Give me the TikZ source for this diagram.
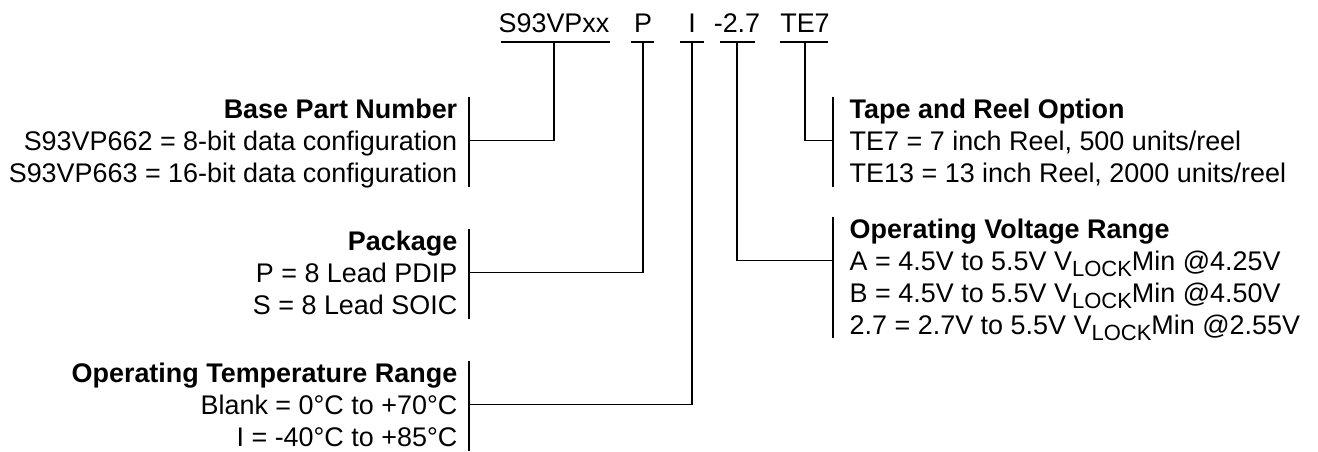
\documentclass[tikz,border=0pt]{standalone}
\usepackage{fontspec}
\setmainfont{Liberation Sans}
\usepackage{tikz}

\newcommand{\vlock}{V\raisebox{-4.5pt}{\fontsize{16.5}{16.5}\selectfont LOCK}}

\begin{document}
\begin{tikzpicture}[x=0.75pt,y=-0.75pt,line width=1.1pt,
  every node/.style={inner sep=0pt,font=\fontsize{20.2}{24}\selectfont},
  lft/.style={anchor=base east},
  rgt/.style={anchor=base west}]
\useasboundingbox (0,0) rectangle (1318,451);

	% part number fields
	\node[anchor=base] (pn) at (554, 32) {S93VPxx};
	\node[anchor=base] (pk) at (643, 32) {P};
	\node[anchor=base] (tr) at (692, 32) {I};
	\node[anchor=base] (vr) at (737, 32) {-2.7};
	\node[anchor=base] (tp) at (805, 32) {TE7};

	\draw (pn.base) ++(-53, 10) -- ++(109, 0);
	\draw (pk.base) ++(-12, 10) -- ++(23, 0);
	\draw (tr.base) ++(-12, 10) -- ++(24, 0);
	\draw (vr.base) ++(-17, 10) -- ++(35, 0);
	\draw (tp.base) ++(-25, 10) -- ++(48, 0);

	% left side
	\node[lft] (b1) at (458, 118) {\bfseries Base Part Number};
	\node[lft] (b2) at (458, 150) {S93VP662 = 8-bit data configuration};
	\node[lft] (b3) at (458, 182) {S93VP663 = 16-bit data configuration};

	\node[lft] (k1) at (458, 250) {\bfseries Package};
	\node[lft] (k2) at (458, 282) {P = 8 Lead PDIP};
	\node[lft] (k3) at (458, 314) {S = 8 Lead SOIC};

	\node[lft] (t1) at (458, 382) {\bfseries Operating Temperature Range};
	\node[lft] (t2) at (458, 414) {Blank = 0°C to +70°C};
	\node[lft] (t3) at (458, 446) {I = -40°C to +85°C};

	% right side
	\node[rgt] (r1) at (849, 118) {\bfseries Tape and Reel Option};
	\node[rgt] (r2) at (849, 150) {TE7 = 7 inch Reel, 500 units/reel};
	\node[rgt] (r3) at (849, 182) {TE13 = 13 inch Reel, 2000 units/reel};

	\node[rgt] (v1) at (849, 238) {\bfseries Operating Voltage Range};
	\node[rgt] (v2) at (849, 270) {A = 4.5V to 5.5V \vlock Min @4.25V};
	\node[rgt] (v3) at (849, 302) {B = 4.5V to 5.5V \vlock Min @4.50V};
	\node[rgt] (v4) at (849, 334) {2.7 = 2.7V to 5.5V \vlock Min @2.55V};

	% bars
	\draw (469, 97) -- (469, 187);
	\draw (469, 229) -- (469, 319);
	\draw (469, 361) -- (469, 451);
	\draw (833, 97) -- (833, 187);
	\draw (833, 217) -- (833, 338);

	\coordinate (xb) at (469, 140.5);
	\coordinate (xk) at (469, 272.5);
	\coordinate (xt) at (469, 404.5);
	\coordinate (xr) at (833, 140.5);
	\coordinate (xv) at (833, 260.5);

	% leaders
	\draw (pn.base) ++(0, 10) |- (xb);
	\draw (pk.base) ++(0, 10) |- (xk);
	\draw (tr.base) ++(0, 10) |- (xt);
	\draw (vr.base) ++(0, 10) |- (xv);
	\draw (tp.base) ++(0, 10) |- (xr);

\end{tikzpicture}
\end{document}
